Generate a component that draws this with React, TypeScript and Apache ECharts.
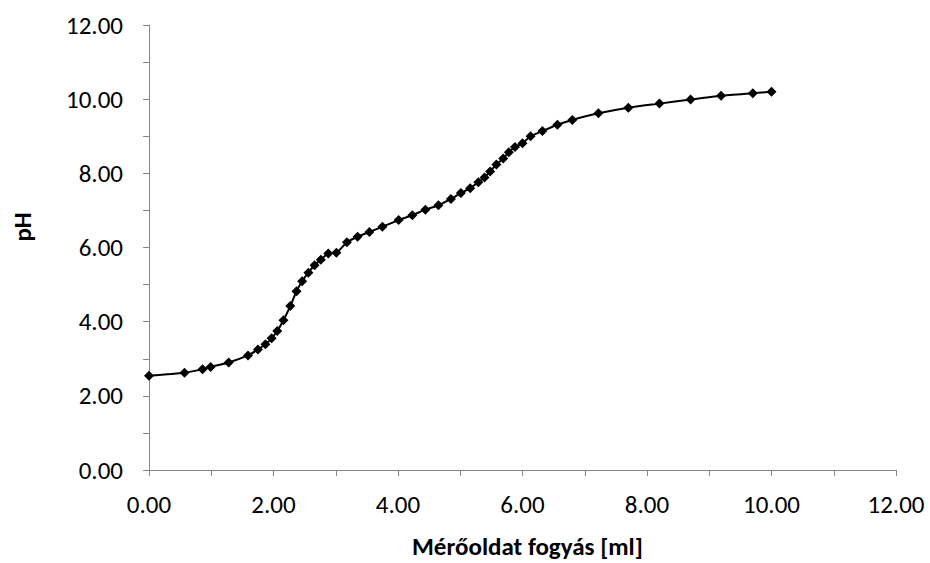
import React, { useEffect, useRef } from "react";
import * as echarts from "echarts";

const volumes = [0, 0.57, 0.86, 0.99, 1.28, 1.59, 1.75, 1.87, 1.97, 2.06, 2.16, 2.27, 2.37, 2.46, 2.56, 2.66, 2.76, 2.88, 3.01, 3.18, 3.35, 3.54, 3.75, 4.01, 4.23, 4.44, 4.65, 4.85, 5.01, 5.16, 5.29, 5.39, 5.48, 5.58, 5.69, 5.78, 5.88, 6.0, 6.13, 6.32, 6.56, 6.8, 7.22, 7.7, 8.2, 8.7, 9.19, 9.7, 10.0];
const phValues = [2.54, 2.62, 2.72, 2.78, 2.9, 3.09, 3.25, 3.39, 3.55, 3.75, 4.04, 4.42, 4.82, 5.09, 5.32, 5.52, 5.67, 5.84, 5.86, 6.14, 6.29, 6.42, 6.56, 6.74, 6.87, 7.02, 7.14, 7.31, 7.47, 7.6, 7.76, 7.89, 8.05, 8.24, 8.4, 8.57, 8.71, 8.81, 9.0, 9.14, 9.31, 9.44, 9.62, 9.77, 9.88, 9.99, 10.09, 10.16, 10.2];

const xTitle = "Mérőoldat fogyás [ml]";
const yTitle = "pH";

export default function App() {
  const ref = useRef<HTMLDivElement>(null);
  useEffect(() => {
    if (!ref.current) return;
    const chart = echarts.init(ref.current, undefined, { renderer: "svg" });
    const font = "Carlito, 'Open Sans', 'Liberation Sans', sans-serif";
    const axisCommon = {
      type: "value" as const,
      min: 0,
      max: 12,
      interval: 1,
      axisLine: { show: true, lineStyle: { color: "#868686", width: 1 } },
      axisTick: { show: true, inside: false, length: 6, lineStyle: { color: "#868686" } },
      splitLine: { show: false },
      axisLabel: {
        color: "#000",
        fontSize: 25,
        fontFamily: font,
        formatter: (v: number) => (v % 2 === 0 ? v.toFixed(2) : ""),
      },
    };
    chart.setOption({
      animation: false,
      backgroundColor: "#fff",
      grid: { left: 149, top: 25, right: 34, bottom: 93, containLabel: false },
      xAxis: { ...axisCommon, axisLabel: { ...axisCommon.axisLabel, margin: 22 } },
      yAxis: { ...axisCommon, axisLabel: { ...axisCommon.axisLabel, margin: 26 } },
      graphic: [
        {
          type: "text",
          x: 412,
          y: 546,
          style: {
            text: xTitle,
            fill: "#000",
            font: `bold 25px ${font}`,
            align: "left",
            verticalAlign: "middle",
          },
        },
        {
          type: "text",
          x: 22.5,
          y: 227,
          rotation: Math.PI / 2,
          style: {
            text: yTitle,
            fill: "#000",
            font: `bold 25px ${font}`,
            align: "center",
            verticalAlign: "middle",
          },
        },
      ],
      series: [
        {
          type: "line",
          data: volumes.map((v, i) => [v, phValues[i]]),
          symbol: "diamond",
          symbolSize: 10,
          smooth: 0.2,
          lineStyle: { color: "#000", width: 2 },
          itemStyle: { color: "#000" },
        },
      ],
    });
    return () => chart.dispose();
  }, []);
  return (
    <div
      ref={ref}
      style={{ position: "absolute", left: 0, top: 0, width: 930, height: 563 }}
    />
  );
}
